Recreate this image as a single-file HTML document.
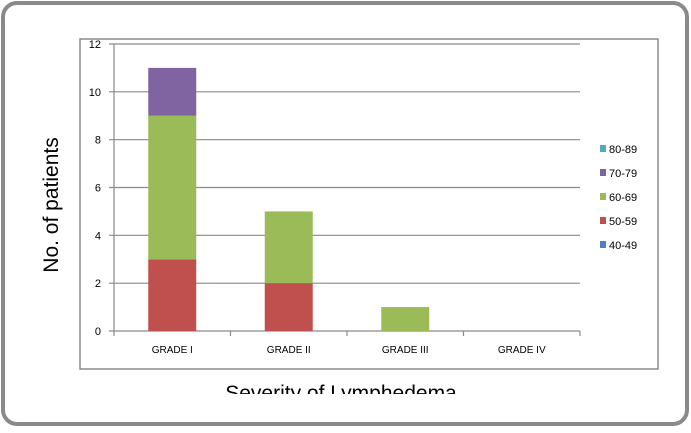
<!DOCTYPE html>
<html><head><meta charset="utf-8"><style>
body{margin:0;width:691px;height:428px;background:#fff;font-family:"Liberation Sans",sans-serif;overflow:hidden}
</style></head><body>
<svg width="691" height="428">
<rect x="3" y="3" width="684" height="421" rx="14" fill="#fff" stroke="#8a8a8a" stroke-width="4"/>
<rect x="80" y="39" width="578" height="330" fill="#fff" stroke="#8a8a8a" stroke-width="1.5"/>
<g id="grid"></g><g id="bars"></g><g id="axes"></g><g id="legend"></g>
<text x="58" y="205" transform="rotate(-90 58 205)" text-anchor="middle" font-size="21" fill="#000">No. of patients</text>
<svg x="0" y="0" width="691" height="394" overflow="hidden"><text x="341" y="400" text-anchor="middle" font-size="21" fill="#000">Severity of Lymphedema</text></svg>
</svg>
<script>
const categories=["GRADE I","GRADE II","GRADE III","GRADE IV"];
const seriesNames=["40-49","50-59","60-69","70-79","80-89"];
const seriesColors=["#4f81bd","#c0504d","#9bbb59","#8064a2","#4bacc6"];
const s40=[0,0,0,0];
const s50=[3,2,0,0];
const s60=[6,3,1,0];
const s70=[2,0,0,0];
const s80=[0,0,0,0];
const yTicks=[0,2,4,6,8,10,12];
const series=[s40,s50,s60,s70,s80];
const NS="http://www.w3.org/2000/svg";
const x0=114,x1=580,y0=331,y1=44,yMax=12;
const y=v=>y0-(v/yMax)*(y0-y1);
const band=(x1-x0)/categories.length;
const xc=i=>x0+band*(i+0.5);
function mk(t,a,p){const e=document.createElementNS(NS,t);for(const k in a)e.setAttribute(k,a[k]);p.appendChild(e);return e;}
const G=document.getElementById("grid"),B=document.getElementById("bars"),A=document.getElementById("axes"),L=document.getElementById("legend");
yTicks.forEach(t=>{
 const l=mk("line",{x1:x0-5,x2:x1,y1:y(t),y2:y(t),stroke:"#8a8a8a","stroke-width":1.2},G);
 
 
 const tx=mk("text",{x:x0-13,y:y(t)+4,"text-anchor":"end","font-size":11,fill:"#000"},A);
 tx.textContent=t;
 
 
});
mk("line",{x1:x0,x2:x0,y1:y1,y2:y0,stroke:"#8a8a8a","stroke-width":1.2},A);
for(let i=0;i<=categories.length;i++){mk("line",{x1:x0+band*i,x2:x0+band*i,y1:y0,y2:y0+5,stroke:"#8a8a8a","stroke-width":1.2},A);}
categories.forEach((c,i)=>{
 let acc=0;
 series.forEach((s,k)=>{
  const v=s[i];if(v<=0)return;
  const r=mk("rect",{x:xc(i)-24,width:48,y:y(acc+v),height:y(acc)-y(acc+v),fill:seriesColors[k]},B);
  
  
  acc+=v;
 });
 const t=mk("text",{x:xc(i),y:353,"text-anchor":"middle","font-size":10,fill:"#000"},A);
 t.textContent=c;
 
 
});
for(let k=seriesNames.length-1,j=0;k>=0;k--,j++){
 const yy=149+j*24;
 const r=mk("rect",{x:600,y:yy-4,width:6,height:7,fill:seriesColors[k]},L);
 
 
 const t=mk("text",{x:609,y:yy+4,"font-size":11,fill:"#000"},L);
 t.textContent=seriesNames[k];
 
 
}
</script>
</body></html>
